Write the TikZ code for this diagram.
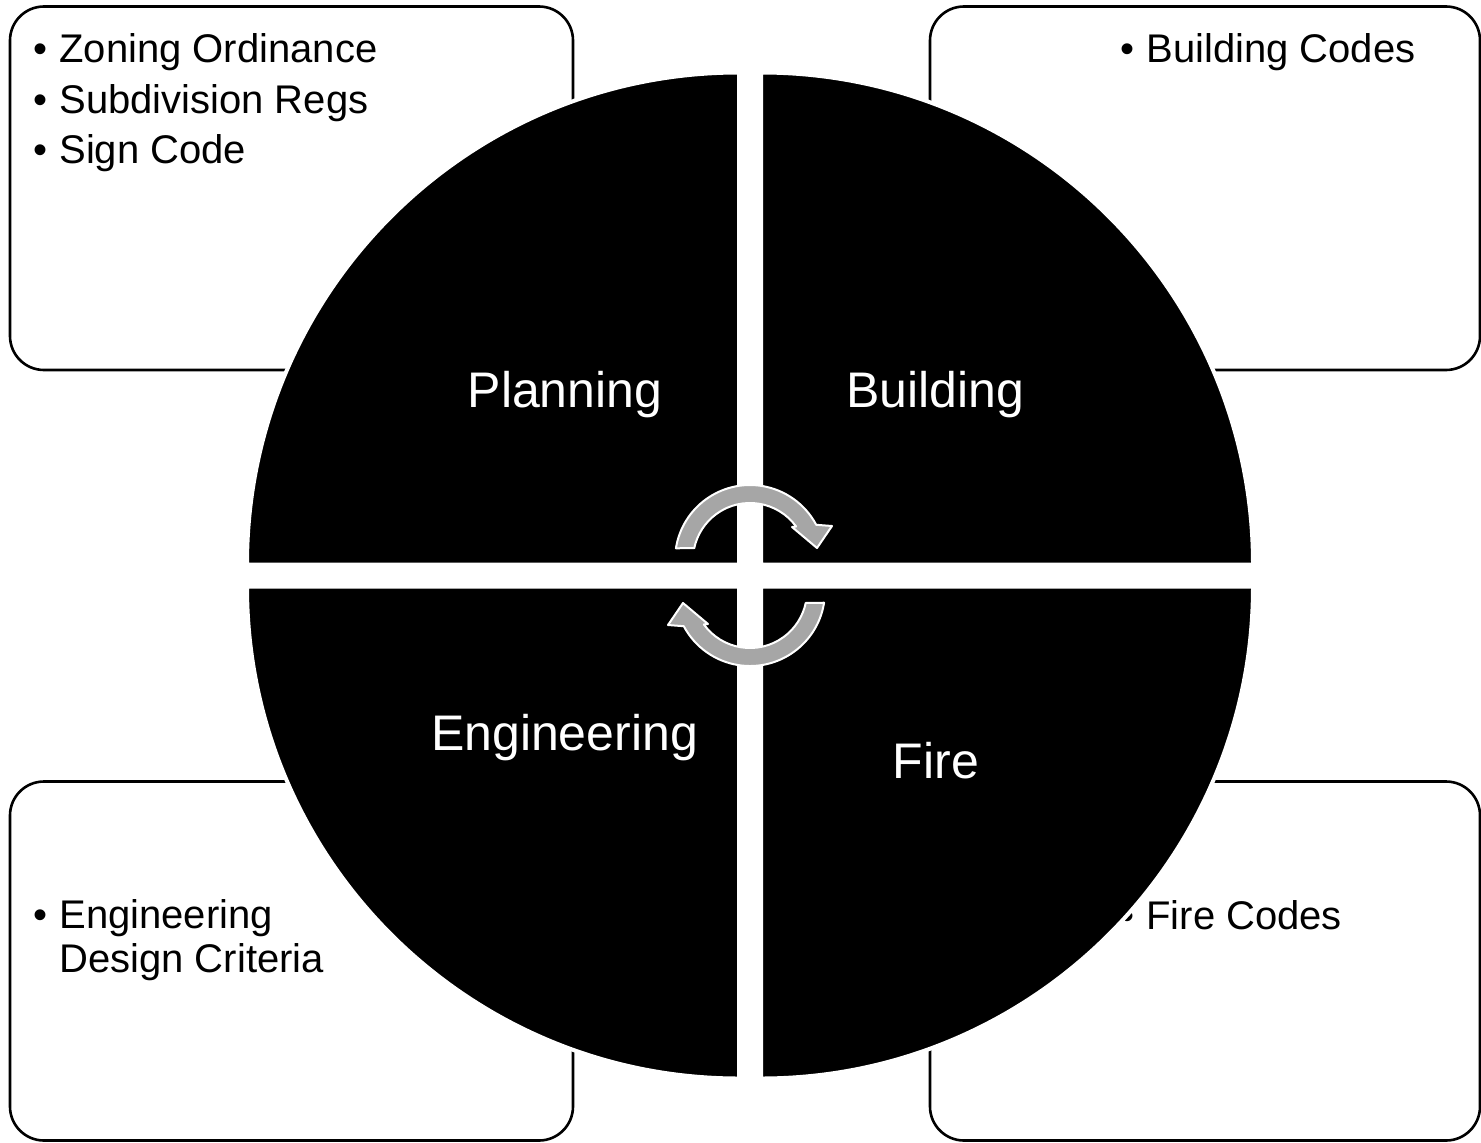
\documentclass[tikz,border=0pt]{standalone}
\usepackage{fontspec}
\setmainfont{Liberation Sans}
\newcommand{\bitem}{\makebox[13pt][l]{\textbullet}}
\definecolor{arrowgray}{HTML}{A6A6A6}

\begin{document}
\begin{tikzpicture}
[x=0.5pt, y=0.5pt,
 codebox/.style={draw=black, line width=1.3pt, rounded corners=17pt},
 boxtext/.style={anchor=base west, inner sep=0, font=\fontsize{20}{25}\selectfont},
 quadrant/.style={fill=black, draw=white, line width=2pt},
 dept/.style={anchor=base, inner sep=0, text=white, font=\fontsize{25}{30}\selectfont},
 cyclearrow/.style={fill=arrowgray, draw=white, line width=1pt, line join=round}]
\fill [white] (-750,-566.5) rectangle (731,575.5);
\useasboundingbox (-750,-566.5) rectangle (731,575.5);
\draw [codebox] (-740,569) rectangle (-177,205.5);
\draw [codebox] (180,569) rectangle (730,205.5);
\draw [codebox] (-740,-206) rectangle (-177,-565);
\draw [codebox] (180,-206) rectangle (730,-565);
\node (zoning) [boxtext] at (-717,512.5) {\bitem Zoning Ordinance};
\node (subdiv) [boxtext] at (-717,462.5) {\bitem Subdivision Regs};
\node (sign) [boxtext] at (-717,412.5) {\bitem Sign Code};
\node (bcodes) [boxtext] at (370,512.5) {\bitem Building Codes};
\node (engcrit) [boxtext] at (-717,-352.5) {\bitem Engineering};
\node (design) [boxtext] at (-691,-396.5) {Design Criteria};
\node (fcodes) [boxtext] at (370,-353.5) {\bitem Fire Codes};
\draw [quadrant] (-11,11) -- ++(-492,0) arc [start angle=180, end angle=90, radius=492] -- cycle;
\draw [quadrant] (11,11) -- ++(0,492) arc [start angle=90, end angle=0, radius=492] -- cycle;
\draw [quadrant] (11,-11) -- ++(492,0) arc [start angle=0, end angle=-90, radius=492] -- cycle;
\draw [quadrant] (-11,-11) -- ++(0,-492) arc [start angle=270, end angle=180, radius=492] -- cycle;
\node (planning) [dept] at (-185,168.5) {Planning};
\node (building) [dept] at (185.5,168.5) {Building};
\node (engineering) [dept] at (-185.5,-174.5) {Engineering};
\node (fire) [dept] at (186,-202.5) {Fire};
\begin{scope}[shift={(0,15.5)}]
\draw [cyclearrow] (171:75) arc [start angle=171, end angle=28, radius=75] -- (82,34) -- (67,12) -- (42,33) -- (36:57) arc [start angle=36, end angle=168, radius=57] -- cycle;
\end{scope}
\begin{scope}[shift={(0,-15.5)}, rotate=180]
\draw [cyclearrow] (171:75) arc [start angle=171, end angle=28, radius=75] -- (82,34) -- (67,12) -- (42,33) -- (36:57) arc [start angle=36, end angle=168, radius=57] -- cycle;
\end{scope}
\end{tikzpicture}
\end{document}
